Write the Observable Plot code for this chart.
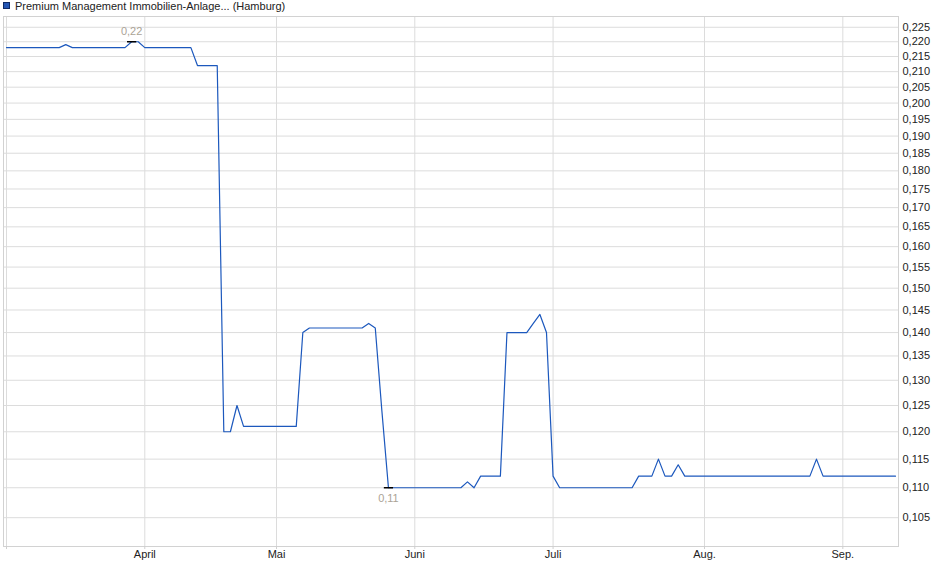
<!DOCTYPE html>
<html><head><meta charset="utf-8">
<script src="https://cdn.jsdelivr.net/npm/d3@7"></script>
<script src="https://cdn.jsdelivr.net/npm/@observablehq/plot@0.6"></script>
<style>
body{margin:0;background:#fff;font-family:"Liberation Sans",Arial,sans-serif;}
#wrap{position:relative;width:940px;height:579px;}
#sw{position:absolute;left:3px;top:2px;width:5px;height:5px;background:#2456b4;border:1px solid #0f2a66;}
#legend{position:absolute;left:15px;top:0;font-size:11px;line-height:13px;color:#222;white-space:nowrap;}
#chart{position:absolute;left:0;top:0;}
</style>
</head><body>
<div id="wrap"><div id="chart"></div><div id="sw"></div><div id="legend"></div></div>
<script>
const seriesName = "Premium Management Immobilien-Anlage... (Hamburg)";
// one value per trading day, March 3 .. Sept 11
const values = [
  0.218,0.218,0.218,0.218,0.218,0.218,0.218,0.218,0.218,0.219,
  0.218,0.218,0.218,0.218,0.218,0.218,0.218,0.218,0.218,0.220,
  0.220,0.218,0.218,0.218,0.218,0.218,0.218,0.218,0.218,0.212,
  0.212,0.212,0.212,0.120,0.120,0.125,0.121,0.121,0.121,0.121,
  0.121,0.121,0.121,0.121,0.121,0.140,0.141,0.141,0.141,0.141,
  0.141,0.141,0.141,0.141,0.141,0.142,0.141,0.124,0.110,0.110,
  0.110,0.110,0.110,0.110,0.110,0.110,0.110,0.110,0.110,0.110,
  0.111,0.110,0.112,0.112,0.112,0.112,0.140,0.140,0.140,0.140,
  0.142,0.144,0.140,0.112,0.110,0.110,0.110,0.110,0.110,0.110,
  0.110,0.110,0.110,0.110,0.110,0.110,0.112,0.112,0.112,0.115,
  0.112,0.112,0.114,0.112,0.112,0.112,0.112,0.112,0.112,0.112,
  0.112,0.112,0.112,0.112,0.112,0.112,0.112,0.112,0.112,0.112,
  0.112,0.112,0.112,0.115,0.112,0.112,0.112,0.112,0.112,0.112,
  0.112,0.112,0.112,0.112,0.112,0.112
];
const monthTickIndex = [21, 41, 62, 83, 106, 127];
const monthLabels = ["April", "Mai", "Juni", "Juli", "Aug.", "Sep."];
const yTicks = [0.105,0.110,0.115,0.120,0.125,0.130,0.135,0.140,0.145,0.150,0.155,0.160,0.165,
  0.170,0.175,0.180,0.185,0.190,0.195,0.200,0.205,0.210,0.215,0.220,0.225];

document.getElementById("legend").textContent = seriesName;

const data = values.map((v, i) => ({i, v}));
const iMax = d3.maxIndex(values), iMin = d3.minIndex(values);
const fmt3 = d => d3.format(".3f")(d).replace(".", ",");
const fmt2 = d => d3.format(".2f")(d).replace(".", ",");
const grid = "#dcdcdc";

const chart = Plot.plot({
  width: 940, height: 579,
  marginTop: 16, marginBottom: 33, marginLeft: 3, marginRight: 42,
  style: {fontFamily: "'Liberation Sans', Arial, sans-serif", fontSize: "11px", color: "#222", background: "transparent"},
  x: {type: "linear", domain: [-0.456, 135.456], label: null},
  y: {type: "log", domain: [0.1004, 0.2288], label: null},
  marks: [
    Plot.gridY(yTicks, {stroke: grid, strokeOpacity: 1}),
    Plot.gridX(monthTickIndex, {stroke: grid, strokeOpacity: 1}),
    Plot.gridX([0], {stroke: grid, strokeOpacity: 1}),
    Plot.frame({stroke: "#d2d2d2"}),
    Plot.axisY(yTicks, {anchor: "right", label: null, tickSize: 0, tickPadding: 4, tickFormat: fmt3, textAnchor: "start"}),
    Plot.axisX(monthTickIndex, {anchor: "bottom", label: null, tickSize: 3, tickPadding: 1, stroke: "#cfcfcf",
      tickFormat: d => monthLabels[monthTickIndex.indexOf(d)]}),
    Plot.axisX([0], {anchor: "bottom", label: null, tickSize: 3, stroke: "#cfcfcf", tickFormat: () => ""}),
    Plot.line(data, {x: "i", y: "v", stroke: "#1c58bd", strokeWidth: 1.2}),
    Plot.link([iMax, iMin], {x1: d => d - 0.7, x2: d => d + 0.7, y1: d => values[d], y2: d => values[d], stroke: "#000", strokeWidth: 1.5}),
    Plot.text([iMax], {x: d => d, y: d => values[d], text: d => fmt2(values[d]), dy: -10, fill: "#aba396"}),
    Plot.text([iMin], {x: d => d, y: d => values[d], text: d => fmt2(values[d]), dy: 11, fill: "#aba396"})
  ]
});
document.getElementById("chart").appendChild(chart);
</script>
</body></html>
